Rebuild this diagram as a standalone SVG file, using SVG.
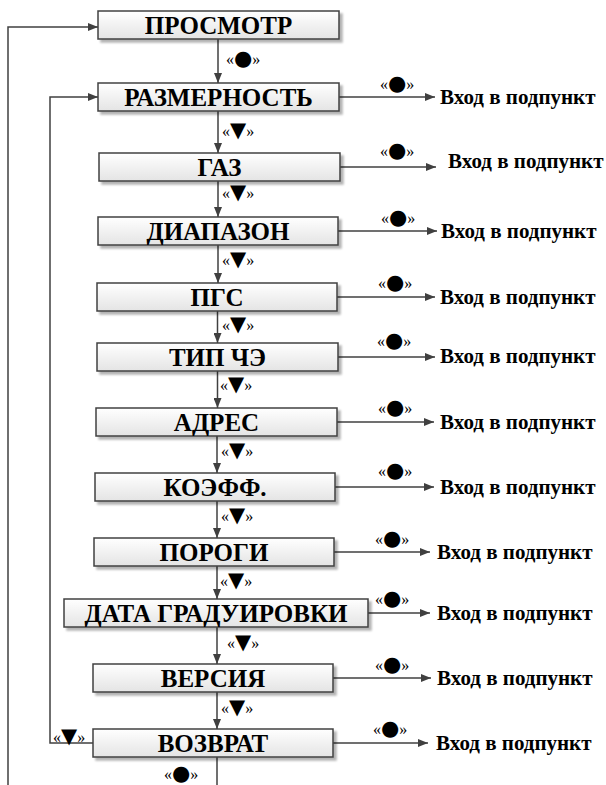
<svg xmlns="http://www.w3.org/2000/svg" width="606" height="785" viewBox="0 0 606 785">
<defs>
<linearGradient id="g" x1="0" y1="0" x2="0" y2="1">
<stop offset="0" stop-color="#ffffff"/>
<stop offset="1" stop-color="#e4e4e4"/>
</linearGradient>
<filter id="sh" x="-5%" y="-20%" width="115%" height="160%">
<feGaussianBlur in="SourceAlpha" stdDeviation="1"/>
<feOffset dx="3" dy="3" result="b"/>
<feComponentTransfer><feFuncA type="linear" slope="0.3"/></feComponentTransfer>
<feMerge><feMergeNode/><feMergeNode in="SourceGraphic"/></feMerge>
</filter>
<marker id="ar" viewBox="0 0 10 8" refX="10" refY="4" markerWidth="10" markerHeight="8" markerUnits="userSpaceOnUse" orient="auto">
<path d="M0,0 L10,4 L0,8 Z" fill="#404040"/>
</marker>
</defs>
<style>
.box{fill:url(#g);stroke:#404040;stroke-width:1.5;filter:url(#sh)}
.c{fill:none;stroke:#404040;stroke-width:1.5}
.ca{fill:none;stroke:#404040;stroke-width:1.5;marker-end:url(#ar)}
</style>
<rect width="606" height="785" fill="#fff"/>

<g id="connectors">
<line class="ca" x1="218" y1="39" x2="218" y2="83"/>
<line class="ca" x1="218" y1="111" x2="218" y2="153"/>
<line class="ca" x1="218" y1="181" x2="218" y2="217"/>
<line class="ca" x1="218" y1="245" x2="218" y2="283"/>
<line class="ca" x1="217.5" y1="311" x2="217.5" y2="343"/>
<line class="ca" x1="217.5" y1="371" x2="217.5" y2="408"/>
<line class="ca" x1="217" y1="436" x2="217" y2="473"/>
<line class="ca" x1="217" y1="501" x2="217" y2="538"/>
<line class="ca" x1="217" y1="566" x2="217" y2="599"/>
<line class="ca" x1="217" y1="627" x2="217" y2="664"/>
<line class="ca" x1="217" y1="692" x2="217" y2="729"/>
<line class="c" x1="217" y1="757" x2="217" y2="785"/>
<polyline class="ca" points="8,785 8,27 98,27"/>
<polyline class="ca" points="93,743 50,743 50,97 98,97"/>
<line class="ca" x1="339" y1="97" x2="435" y2="97"/>
<line class="ca" x1="340" y1="167" x2="436" y2="167"/>
<line class="ca" x1="338" y1="231" x2="437" y2="231"/>
<line class="ca" x1="337" y1="297" x2="435" y2="297"/>
<line class="ca" x1="338" y1="357" x2="435" y2="357"/>
<line class="ca" x1="337" y1="422" x2="434" y2="422"/>
<line class="ca" x1="335" y1="487" x2="434" y2="487"/>
<line class="ca" x1="334" y1="552" x2="430" y2="552"/>
<line class="ca" x1="368" y1="613" x2="430" y2="613"/>
<line class="ca" x1="333" y1="678" x2="431" y2="678"/>
<line class="ca" x1="333" y1="743" x2="428" y2="743"/>
<g font-family="Liberation Serif, Times New Roman, serif" font-size="16" fill="#000">
<text x="226" y="65">«<tspan font-family="DejaVu Sans, sans-serif" font-size="21">●</tspan>»</text>
<text x="222" y="137">«<tspan font-family="DejaVu Sans, sans-serif" font-size="21">▼</tspan>»</text>
<text x="222" y="199">«<tspan font-family="DejaVu Sans, sans-serif" font-size="21">▼</tspan>»</text>
<text x="222" y="266">«<tspan font-family="DejaVu Sans, sans-serif" font-size="21">▼</tspan>»</text>
<text x="222" y="331">«<tspan font-family="DejaVu Sans, sans-serif" font-size="21">▼</tspan>»</text>
<text x="220" y="391">«<tspan font-family="DejaVu Sans, sans-serif" font-size="21">▼</tspan>»</text>
<text x="221" y="457">«<tspan font-family="DejaVu Sans, sans-serif" font-size="21">▼</tspan>»</text>
<text x="221" y="522">«<tspan font-family="DejaVu Sans, sans-serif" font-size="21">▼</tspan>»</text>
<text x="220" y="587">«<tspan font-family="DejaVu Sans, sans-serif" font-size="21">▼</tspan>»</text>
<text x="227" y="649">«<tspan font-family="DejaVu Sans, sans-serif" font-size="21">▼</tspan>»</text>
<text x="221" y="714">«<tspan font-family="DejaVu Sans, sans-serif" font-size="21">▼</tspan>»</text>
<text x="164" y="780">«<tspan font-family="DejaVu Sans, sans-serif" font-size="21">●</tspan>»</text>
<text x="53" y="743">«<tspan font-family="DejaVu Sans, sans-serif" font-size="21">▼</tspan>»</text>
<text x="380" y="90">«<tspan font-family="DejaVu Sans, sans-serif" font-size="21">●</tspan>»</text>
<text x="380" y="157">«<tspan font-family="DejaVu Sans, sans-serif" font-size="21">●</tspan>»</text>
<text x="381" y="224">«<tspan font-family="DejaVu Sans, sans-serif" font-size="21">●</tspan>»</text>
<text x="378" y="289">«<tspan font-family="DejaVu Sans, sans-serif" font-size="21">●</tspan>»</text>
<text x="377" y="347">«<tspan font-family="DejaVu Sans, sans-serif" font-size="21">●</tspan>»</text>
<text x="378" y="414">«<tspan font-family="DejaVu Sans, sans-serif" font-size="21">●</tspan>»</text>
<text x="378" y="477">«<tspan font-family="DejaVu Sans, sans-serif" font-size="21">●</tspan>»</text>
<text x="375" y="545">«<tspan font-family="DejaVu Sans, sans-serif" font-size="21">●</tspan>»</text>
<text x="375" y="605">«<tspan font-family="DejaVu Sans, sans-serif" font-size="21">●</tspan>»</text>
<text x="375" y="671">«<tspan font-family="DejaVu Sans, sans-serif" font-size="21">●</tspan>»</text>
<text x="373" y="735">«<tspan font-family="DejaVu Sans, sans-serif" font-size="21">●</tspan>»</text>
</g>
<g font-family="Liberation Serif, Times New Roman, serif" font-weight="bold" font-size="21" fill="#000">
<text x="440" y="104">Вход в подпункт</text>
<text x="448" y="168">Вход в подпункт</text>
<text x="441" y="238">Вход в подпункт</text>
<text x="440" y="304">Вход в подпункт</text>
<text x="440" y="363">Вход в подпункт</text>
<text x="440" y="429">Вход в подпункт</text>
<text x="440" y="494">Вход в подпункт</text>
<text x="437" y="559">Вход в подпункт</text>
<text x="437" y="620">Вход в подпункт</text>
<text x="437" y="685">Вход в подпункт</text>
<text x="436" y="750">Вход в подпункт</text>
</g>
</g>

<g font-family="Liberation Serif, Times New Roman, serif" font-weight="bold" font-size="25" text-anchor="middle" fill="#000">
<g id="n1"><rect class="box" x="98" y="11" width="241" height="28"/><text x="218.5" y="33.5">ПРОСМОТР</text></g>
<g id="n2"><rect class="box" x="98" y="83" width="241" height="28"/><text x="218.5" y="105.5">РАЗМЕРНОСТЬ</text></g>
<g id="n3"><rect class="box" x="99" y="153" width="241" height="28"/><text x="219.5" y="175.5">ГАЗ</text></g>
<g id="n4"><rect class="box" x="98" y="217" width="240" height="28"/><text x="218" y="239.5">ДИАПАЗОН</text></g>
<g id="n5"><rect class="box" x="97" y="283" width="240" height="28"/><text x="217" y="305.5">ПГС</text></g>
<g id="n6"><rect class="box" x="97" y="343" width="241" height="28"/><text x="217.5" y="365.5">ТИП ЧЭ</text></g>
<g id="n7"><rect class="box" x="96" y="408" width="241" height="28"/><text x="216.5" y="430.5">АДРЕС</text></g>
<g id="n8"><rect class="box" x="95" y="473" width="240" height="28"/><text x="215" y="495.5">КОЭФФ.</text></g>
<g id="n9"><rect class="box" x="94" y="538" width="240" height="28"/><text x="214" y="560.5">ПОРОГИ</text></g>
<g id="n10"><rect class="box" x="64" y="599" width="304" height="28"/><text x="216" y="621.5">ДАТА ГРАДУИРОВКИ</text></g>
<g id="n11"><rect class="box" x="93" y="664" width="240" height="28"/><text x="213" y="686.5">ВЕРСИЯ</text></g>
<g id="n12"><rect class="box" x="93" y="729" width="240" height="28"/><text x="213" y="751.5">ВОЗВРАТ</text></g>
</g>
</svg>
